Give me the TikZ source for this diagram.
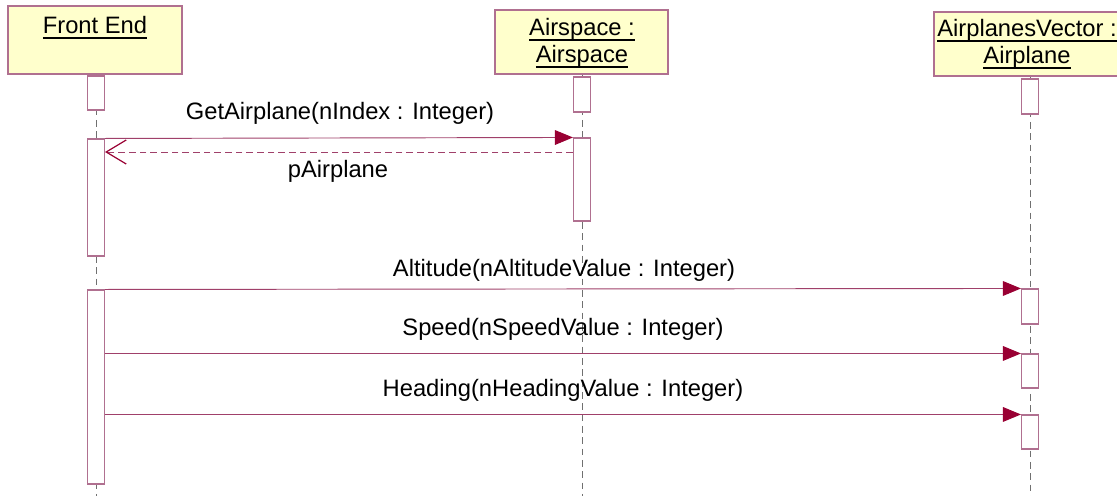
\documentclass[tikz,border=0pt]{standalone}
\usepackage{fontspec}
\setmainfont{Liberation Sans}
\usetikzlibrary{arrows.meta}
\definecolor{boxline}{HTML}{B07090}
\definecolor{headfill}{HTML}{FFFFCC}
\definecolor{msgcol}{HTML}{A0406A}
\definecolor{tipcol}{HTML}{990033}
\definecolor{lifecol}{HTML}{707070}
\newcommand\myul[1]{\leavevmode\setbox0=\hbox{#1}\rlap{\copy0}\raisebox{-3.9pt}{\rule{\wd0}{1.3pt}}}
\tikzset{
  head/.style={draw=boxline, fill=headfill, line width=0.8pt, inner sep=0pt},
  headtext/.style={font=\fontsize{17.8}{20.3}\selectfont, align=center, anchor=north, inner sep=0pt},
  act/.style={draw=boxline, fill=white, line width=0.8pt, minimum width=12.75pt, inner sep=0pt},
  life/.style={draw=lifecol, line width=0.7pt, dash pattern=on 5pt off 3.5pt},
  msg/.style={draw=msgcol, line width=0.7pt, -{Triangle[length=13.5pt,width=11pt,fill=tipcol,color=tipcol]}},
  ret/.style={draw=msgcol, line width=0.7pt, dash pattern=on 5pt off 3pt, -{Straight Barb[length=15pt,width=18pt,line width=0.9pt,color=tipcol]}},
  lbl/.style={font=\fontsize{17.8}{21}\selectfont, inner sep=0pt}
}
\begin{document}
\begin{tikzpicture}[x=0.75pt,y=-0.75pt]
\useasboundingbox (0,0) rectangle (1117,496);
% headers
\node[head, minimum width=130.5pt, minimum height=51pt] (fe) at (95,40) {};
\node[head, minimum width=129.75pt, minimum height=48pt] (as) at (581.5,42) {};
\node[head, minimum width=144pt, minimum height=48pt] (av) at (1030,44) {};
\node[headtext] (fet) at (95,16) {\myul{Front End}};
\node[headtext] (ast) at (582,18) {\myul{Airspace :}\\\myul{Airspace}};
\node[headtext] (avt) at (1027,19) {\myul{AirplanesVector :}\\\myul{Airplane}};
% lifeline ends
\coordinate (feb) at (96,496);
\coordinate (asb) at (582,496);
\coordinate (avb) at (1030,496);
\draw[life] (fe.south -| feb) -- (feb);
\draw[life] (as.south -| asb) -- (asb);
\draw[life] (av.south -| avb) -- (avb);
% activations
\node[act, minimum height=25.5pt] (fe1) at (96,93) {};
\node[act, minimum height=87.75pt] (fe2) at (96,197.5) {};
\node[act, minimum height=145.5pt] (fe3) at (96,387) {};
\node[act, minimum height=26.25pt] (as1) at (582,94.5) {};
\node[act, minimum height=62.25pt] (as2) at (582,179.5) {};
\node[act, minimum height=26.25pt] (av1) at (1030,96.5) {};
\node[act, minimum height=26.25pt] (av2) at (1030,306.5) {};
\node[act, minimum height=25.5pt] (av3) at (1030,371) {};
\node[act, minimum height=25.5pt] (av4) at (1030,432) {};
% messages
\draw[msg] (fe2.north east) -- (as2.north west);
\node[lbl] (l1) at (340,113) {GetAirplane(nIndex : Integer)};
\coordinate (r) at (0,152);
\draw[ret] (as2.west |- r) -- (fe2.east |- r);
\node[lbl] (l2) at (338,171) {pAirplane};
\draw[msg] (fe3.north east) -- (av2.north west);
\node[lbl] (l3) at (564,270) {Altitude(nAltitudeValue : Integer)};
\draw[msg] (fe3.east |- av3.north west) -- (av3.north west);
\node[lbl] (l4) at (563,329) {Speed(nSpeedValue : Integer)};
\draw[msg] (fe3.east |- av4.north west) -- (av4.north west);
\node[lbl] (l5) at (563,390) {Heading(nHeadingValue : Integer)};
\end{tikzpicture}
\end{document}
